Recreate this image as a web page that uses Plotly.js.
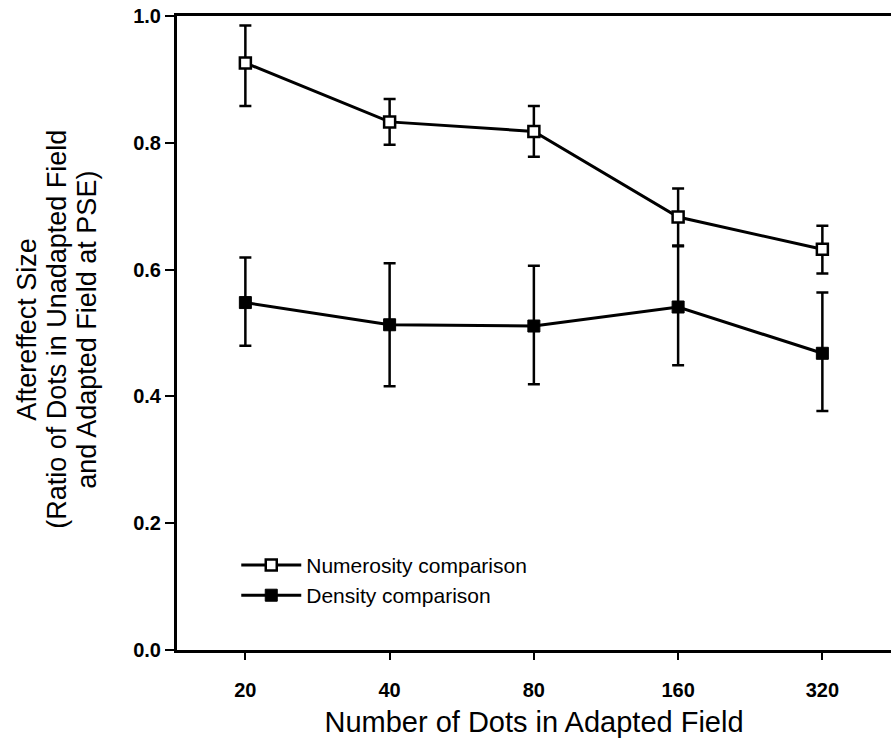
<!DOCTYPE html>
<html>
<head>
<meta charset="utf-8">
<script src="https://cdn.plot.ly/plotly-3.0.1.min.js"></script>
<style>html,body{margin:0;padding:0;background:#fff;}#chart{width:891px;height:744px;}</style>
</head>
<body>
<div id="chart"></div>
<script>
// Data
const dotCounts = [20, 40, 80, 160, 320];
const tickLabels = ["20", "40", "80", "160", "320"];

const numerosityMean = [0.926, 0.833, 0.818, 0.683, 0.632];
const numerosityErrUp = [0.059, 0.036, 0.040, 0.045, 0.037];
const numerosityErrDown = [0.068, 0.036, 0.040, 0.045, 0.038];

const densityMean = [0.548, 0.513, 0.511, 0.541, 0.468];
const densityErrUp = [0.071, 0.097, 0.095, 0.096, 0.096];
const densityErrDown = [0.068, 0.097, 0.092, 0.092, 0.091];

const seriesNames = ["Numerosity comparison", "Density comparison"];
const yTitleLines = ["Aftereffect Size", "(Ratio of Dots in Unadapted Field", "and Adapted Field at PSE)"];
const xTitle = "Number of Dots in Adapted Field";

const FONT = "Liberation Sans, Arial, Helvetica, sans-serif";

const traces = [
  {
    x: dotCounts, y: numerosityMean, name: seriesNames[0],
    type: "scatter", mode: "lines+markers",
    line: {color: "#000", width: 3},
    marker: {symbol: "square", size: 11, color: "#fff", line: {color: "#000", width: 2.5}},
    error_y: {type: "data", symmetric: false, array: numerosityErrUp, arrayminus: numerosityErrDown,
              color: "#000", thickness: 2.5, width: 6}
  },
  {
    x: dotCounts, y: densityMean, name: seriesNames[1],
    type: "scatter", mode: "lines+markers",
    line: {color: "#000", width: 3},
    marker: {symbol: "square", size: 12, color: "#000", line: {color: "#000", width: 1}},
    error_y: {type: "data", symmetric: false, array: densityErrUp, arrayminus: densityErrDown,
              color: "#000", thickness: 2.5, width: 6}
  }
];

// y-axis title as three rotated lines (tight line spacing as in the reference)
const plotLeft = 177, plotW = 714;
const lineXs = [27, 57, 87];
const annotations = yTitleLines.map((t, i) => ({
  text: t, xref: "paper", yref: "paper",
  x: (lineXs[i] - plotLeft) / plotW, y: 0.505,
  xanchor: "center", yanchor: "middle", textangle: -90, showarrow: false,
  font: {family: FONT, size: 27, color: "#000"}
}));

const layout = {
  width: 891, height: 744,
  margin: {l: 177, r: 0, t: 16, b: 94},
  paper_bgcolor: "#fff", plot_bgcolor: "#fff",
  font: {family: FONT, color: "#000"},
  showlegend: true,
  legend: {
    x: 0.083, y: 0.11, xanchor: "left", yanchor: "middle",
    bgcolor: "rgba(0,0,0,0)",
    font: {family: FONT, size: 21, color: "#000"},
    itemwidth: 60, tracegroupgap: 0
  },
  annotations: annotations,
  xaxis: {
    type: "log",
    range: [Math.log10(14.4), Math.log10(445)],
    tickvals: dotCounts, ticktext: tickLabels,
    ticks: "outside", ticklen: 7, tickwidth: 2, tickcolor: "#000",
    showline: true, linecolor: "#000", linewidth: 3, mirror: true,
    showgrid: false, zeroline: false,
    tickfont: {family: FONT, size: 20, weight: "bold", color: "#000"},
    ticklabelstandoff: 13,
    title: {text: xTitle, font: {family: FONT, size: 29, color: "#000"}, standoff: 12}
  },
  yaxis: {
    range: [0, 1.0],
    tickvals: [0, 0.2, 0.4, 0.6, 0.8, 1.0],
    tickformat: ".1f",
    ticks: "outside", ticklen: 9, tickwidth: 2, tickcolor: "#000",
    showline: true, linecolor: "#000", linewidth: 3, mirror: false,
    showgrid: false, zeroline: false,
    tickfont: {family: FONT, size: 20, weight: "bold", color: "#000"},
    ticklabelstandoff: 0
  }
};

Plotly.newPlot("chart", traces, layout, {displayModeBar: false, staticPlot: true});
</script>
</body>
</html>
